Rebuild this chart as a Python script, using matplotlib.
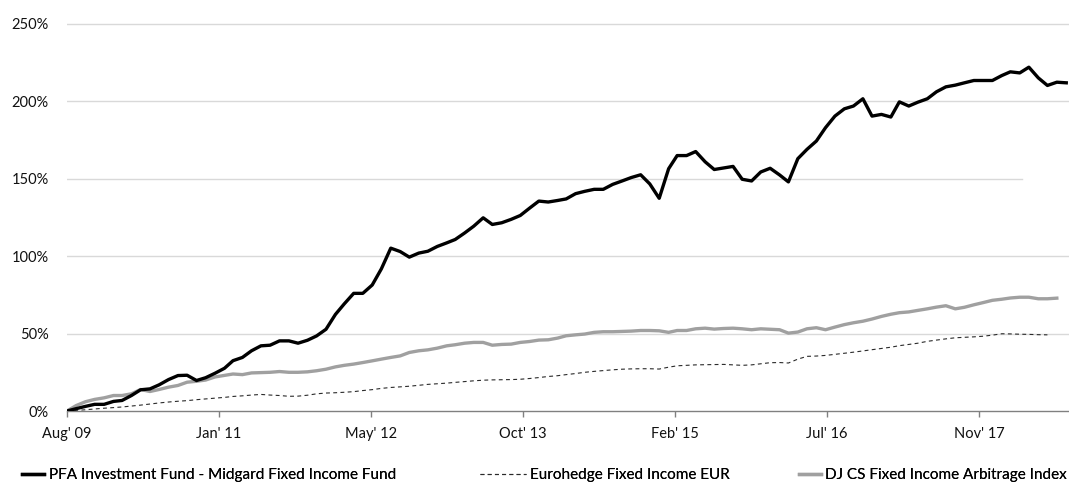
"""Cumulative performance: Midgard Fixed Income Fund vs. benchmarks."""

import matplotlib
matplotlib.use("Agg")
import matplotlib.dates as mdates
import matplotlib.pyplot as plt
import numpy as np
import pandas as pd


START = "2009-08-31"

# cumulative return (%), month-end values from Aug 2009
MIDGARD = [
    0, 1.5, 3, 4.3, 4.3, 6.2, 6.8, 10, 13.7, 14.3,
    16.9, 20.3, 22.9, 23.1, 19.7, 21.5, 24.4, 27.6, 32.5, 34.6,
    38.9, 42.1, 42.5, 45.3, 45.3, 43.8, 45.7, 48.5, 52.8, 62.4,
    69.2, 76, 76, 81.4, 91.8, 105.2, 103, 99.4, 102, 103.2,
    106.3, 108.6, 110.8, 115, 119.4, 124.8, 120.5, 121.6, 123.8, 126.3,
    131.1, 135.6, 135, 136, 137, 140.4, 141.9, 143.2, 143.2, 146.4,
    148.6, 150.8, 152.6, 146.7, 137.4, 156.5, 165, 165, 167.6, 161,
    156, 157, 158, 149.7, 148.6, 154.4, 156.8, 152.5, 148, 163,
    169, 174.4, 183, 190.5, 195.2, 197, 201.7, 190.5, 191.6, 189.9,
    199.7, 197, 199.5, 201.7, 206.2, 209.4, 210.5, 212, 213.5, 213.5,
    213.5, 216.7, 219.1, 218.4, 222.1, 215.2, 210.3, 212.4, 212,
]

EUROHEDGE = [
    0, 0.4, 0.8, 1.3, 1.8, 2.2, 2.6, 3.2, 3.8, 4.5,
    5.2, 5.8, 6.3, 6.7, 7.3, 7.8, 8.3, 8.8, 9.4, 9.8,
    10.3, 10.7, 10.3, 10, 9.5, 9.6, 10.2, 11.1, 11.6, 11.8,
    12.1, 12.5, 13.2, 13.8, 14.6, 15.2, 15.6, 16, 16.6, 17.2,
    17.6, 18, 18.5, 19, 19.5, 19.9, 20.1, 20.2, 20.3, 20.5,
    21, 21.6, 22.3, 22.8, 23.5, 24.2, 25, 25.6, 26.1, 26.6,
    27, 27.2, 27.3, 27.3, 27.1, 28.3, 29.2, 29.5, 29.8, 29.9,
    30, 30.1, 29.8, 29.5, 29.8, 30.5, 31.2, 31.3, 31, 33.5,
    35.3, 35.5, 35.9, 36.6, 37.3, 38, 38.8, 39.6, 40.4, 41.2,
    42.2, 43, 43.8, 45, 45.8, 46.6, 47.3, 47.6, 47.9, 48.3,
    49, 49.9, 49.8, 49.6, 49.5, 49.3, 49.2,
]

DJCS = [
    0, 3.5, 6, 7.5, 8.5, 10, 10, 11.1, 13.9, 12.6,
    13.9, 15.4, 16.5, 18.6, 19.2, 20, 22, 23, 23.9, 23.5,
    24.6, 24.8, 25, 25.5, 25, 25, 25.3, 26, 27, 28.5,
    29.5, 30.3, 31.3, 32.4, 33.5, 34.6, 35.6, 37.8, 38.9, 39.5,
    40.6, 42.1, 42.8, 43.8, 44.3, 44.3, 42.5, 43, 43.2, 44.3,
    44.9, 45.8, 46, 47.1, 48.6, 49.2, 49.7, 50.8, 51.2, 51.2,
    51.4, 51.6, 52, 52, 51.8, 50.8, 52, 52, 53.1, 53.5,
    52.9, 53.3, 53.5, 53.1, 52.5, 53.1, 52.8, 52.5, 50.3, 51,
    53.1, 53.8, 52.5, 54.2, 55.8, 57, 58, 59.4, 61.1, 62.5,
    63.5, 64, 65, 66, 67.1, 68, 66, 67, 68.6, 70,
    71.5, 72.2, 73, 73.5, 73.5, 72.5, 72.5, 72.9,
]

LABELS = [
    "PFA Investment Fund - Midgard Fixed Income Fund",
    "Eurohedge Fixed Income EUR",
    "DJ CS Fixed Income Arbitrage Index",
]
Y_TICKS = [0, 50, 100, 150, 200, 250]


def month_ends(n):
    return pd.date_range(START, periods=n, freq=pd.offsets.MonthEnd())


plt.rcParams["font.family"] = ["Lato", "DejaVu Sans"]
plt.rcParams["font.size"] = 10.5

fig = plt.figure(figsize=(10.69, 4.86), dpi=100)
ax = fig.add_axes([67 / 1069, 1 - 411 / 486, 1 - 67 / 1069, (411 - 20.9) / 486])

# light horizontal grid (the 150% line stops short, as in the source)
for y in Y_TICKS[1:]:
    ax.axhline(y, xmin=0, xmax=0.953 if y == 150 else 1.0,
               color="#d9d9d9", linewidth=1.0, zorder=0)

lines = []
lines += ax.plot(month_ends(len(MIDGARD)), MIDGARD, color="#000000",
                 linewidth=2.4, zorder=4)
lines += ax.plot(month_ends(len(EUROHEDGE)), EUROHEDGE, color="#2a2a2a",
                 linewidth=0.8, linestyle=(0, (3.5, 3)), zorder=2)
lines += ax.plot(month_ends(len(DJCS)), DJCS, color="#a0a0a0",
                 linewidth=2.4, zorder=3)

start = pd.Timestamp(START)
ax.set_xlim(start, start + pd.Timedelta(days=3296))
ax.set_ylim(0, 252)

ticks = [start + pd.Timedelta(days=500 * k) for k in range(7)]
ax.set_xticks(mdates.date2num(ticks))
ax.xaxis.set_major_formatter(mdates.DateFormatter("%b' %y"))
ax.set_yticks(Y_TICKS)
ax.set_yticklabels([f"{v}%" for v in Y_TICKS])

for side in ("top", "right", "left"):
    ax.spines[side].set_visible(False)
ax.spines["bottom"].set_color("#808080")
ax.spines["bottom"].set_linewidth(1.0)
ax.tick_params(axis="x", direction="out", length=4.5, width=1.0,
               color="#808080", pad=7, labelcolor="#111111")
ax.tick_params(axis="y", length=0, pad=13, labelcolor="#111111")

# one legend per entry so each sits where the source puts it
legend_spots = [(22, "center left", 1.45), (480, "center left", 3.0),
                (1067, "center right", 1.45)]
for line, label, (x_px, loc, hlen) in zip(lines, LABELS, legend_spots):
    leg = fig.legend([line], [label], loc=loc,
                     bbox_to_anchor=(x_px / 1069, 1 - 475 / 486),
                     frameon=False, borderpad=0, borderaxespad=0,
                     handlelength=hlen, handletextpad=0.3, fontsize=11)
    fig.add_artist(leg)

fig.savefig("out.png", dpi=100, facecolor="white")
